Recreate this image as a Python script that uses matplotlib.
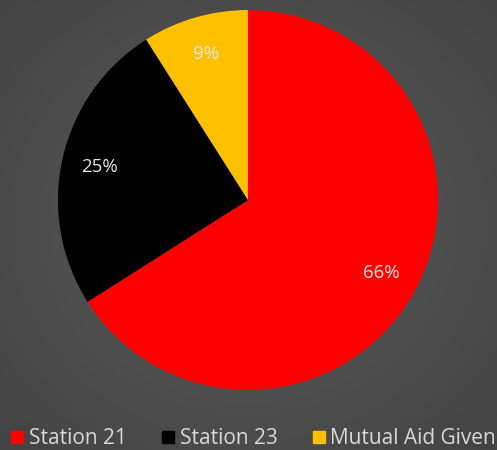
import matplotlib.pyplot as plt
import numpy as np
from matplotlib.colors import LinearSegmentedColormap

labels = ['Station 21', 'Station 23', 'Mutual Aid Given']
values = [66, 25, 9]
colors = ['#ff0000', '#000000', '#ffc000']

fig = plt.figure(figsize=(4.97, 4.5), dpi=100)

# radial gray background, lighter in the middle
bg = fig.add_axes([0, 0, 1, 1])
yy, xx = np.mgrid[-1:1:300j, -1:1:300j]
rr = np.sqrt(xx**2 + yy**2)
cmap = LinearSegmentedColormap.from_list('bg', ['#5c5c5c', '#434343'])
bg.imshow(rr, cmap=cmap, vmin=0, vmax=1.42, extent=[0, 1, 0, 1], aspect='auto')
bg.axis('off')

ax = fig.add_axes([0.1167, 0.1333, 0.7646, 0.8444])
wedges, texts, autotexts = ax.pie(values, colors=colors, startangle=90, counterclock=False,
                                  autopct='%d%%', pctdistance=0.8, radius=1,
                                  textprops={'color': '#e6e6e6', 'fontsize': 13.5, 'family': 'Open Sans'})
ax.set_xlim(-1, 1)
ax.set_ylim(-1, 1)
ax.set_aspect('auto')
ax.axis('off')

handles = [plt.Line2D([], [], marker='s', linestyle='', color=c, markersize=8) for c in colors]
leg = fig.legend(handles, labels, loc='lower center', bbox_to_anchor=(0.51, -0.04), ncol=3,
                 frameon=False, handlelength=0.6, handletextpad=0.25, columnspacing=1.7,
                 prop={'family': 'Open Sans', 'size': 15})
for t in leg.get_texts():
    t.set_color('#d9d9d9')

fig.savefig('out.png', dpi=100)
